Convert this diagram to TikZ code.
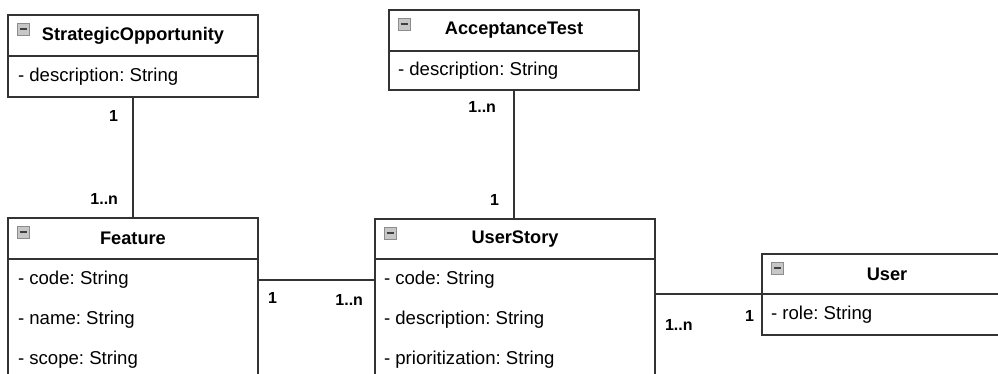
\documentclass[tikz,border=0pt]{standalone}
\usepackage{fontspec}
\setmainfont{Liberation Sans}
\usetikzlibrary{positioning}
\frenchspacing

\begin{document}
\begin{tikzpicture}
[x=1pt,y=-1pt,line width=1.5pt,draw=black!80,%
  every node/.style={inner sep=0pt,outer sep=0pt,font=\fontsize{18.6}{21}\selectfont},%
  head/.style={draw=black!80,anchor=north west,minimum height=41pt,font=\fontsize{18.2}{21}\selectfont\bfseries},%
  body/.style={draw=black!80,anchor=north west},%
  attr/.style={anchor=west},%
  mult/.style={font=\fontsize{16}{18}\selectfont\bfseries},%
  minus/.style={draw=black!45,fill=black!22,line width=0.8pt,minimum size=12pt,
    path picture={\draw[black!75,line width=1.6pt]
      ([xshift=2.5pt]path picture bounding box.west) --
      ([xshift=-2.5pt]path picture bounding box.east);}}]
\useasboundingbox (0,0) rectangle (998,374);
\clip (0,0) rectangle (998,374);
% classes
\node[head,minimum width=250pt] (soh) at (8,15) {StrategicOpportunity};
\node[body,minimum width=250pt,minimum height=41pt] (sob) at (soh.south west) {};
\node[attr] (so1) at ([xshift=10pt]sob.west) {- description: String};

\node[head,minimum width=250pt] (ath) at (389,10) {AcceptanceTest};
\node[body,minimum width=250pt,minimum height=39pt] (atb) at (ath.south west) {};
\node[attr] (at1) at ([xshift=9pt]atb.west) {- description: String};

\node[head,minimum width=250pt] (fh) at (8,218) {Feature};
\node[body,minimum width=250pt,minimum height=140pt] (fb) at (fh.south west) {};
\foreach \a [count=\i] in {code,name,scope}
  \node[attr] (fa\i) at ([shift={(10,40*\i-19)}]fb.north west) {- \a: String};

\node[head,minimum width=280pt,minimum height=40pt] (ush) at (375,219) {UserStory};
\node[body,minimum width=280pt,minimum height=140pt] (usb) at (ush.south west) {};
\foreach \a [count=\i] in {code,description,prioritization}
  \node[attr] (usa\i) at ([shift={(9,40*\i-19)}]usb.north west) {- \a: String};

\node[head,minimum width=250pt,minimum height=40pt] (uh) at (762,254) {User};
\node[body,minimum width=250pt,minimum height=41pt] (ub) at (uh.south west) {};
\node[attr] (u1) at ([xshift=9pt]ub.west) {- role: String};

% collapse icons
\foreach \c in {soh,ath,fh,ush,uh}
  \node[minus] (\c-i) at ([shift={(15,14)}]\c.north west) {};

% associations
\draw (sob.south) -- (fh.north);
\draw (atb.south) -- (atb.south |- ush.north);
\draw (fh.east |- fa1) -- (ush.west |- fa1);
\draw (ush.east |- uh.south) -- (uh.south west);

% multiplicities
\node[mult,anchor=east] (m1) at ([shift={(-15,19)}]sob.south) {1};
\node[mult,anchor=east] (m2) at ([shift={(-15,-19)}]fh.north) {1..n};
\node[mult,anchor=east] (m3) at ([shift={(-18,17)}]atb.south) {1..n};
\node[mult,anchor=east] (m4) at ([shift={(-16,-19)}]ush.north) {1};
\node[mult,anchor=west] (m5) at (268,298) {1};
\node[mult,anchor=east] (m6) at (363,300) {1..n};
\node[mult,anchor=west] (m7) at (665,325) {1..n};
\node[mult,anchor=east] (m8) at (754,316) {1};
\end{tikzpicture}
\end{document}
